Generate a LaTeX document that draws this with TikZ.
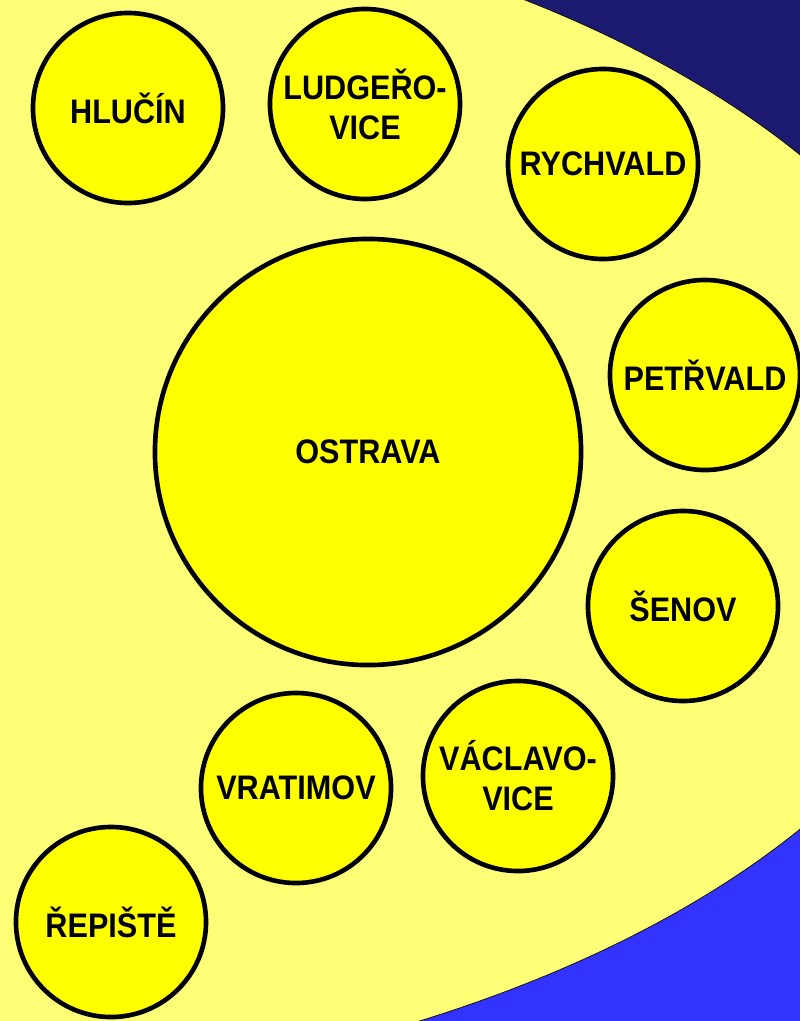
\documentclass[tikz,border=0pt]{standalone}
\usepackage{fontspec}
\setmainfont{Liberation Sans}[FakeStretch=0.9]
\usepackage{tikz}

\definecolor{navy}{RGB}{28,26,112}
\definecolor{brightblue}{RGB}{51,51,255}
\definecolor{paleyellow}{RGB}{255,255,119}
\definecolor{townyellow}{RGB}{255,255,0}
\pgfdeclareverticalshading{bgshade}{100bp}{color(0bp)=(brightblue); color(40bp)=(brightblue); color(60bp)=(navy); color(100bp)=(navy)}

\begin{document}
\begin{tikzpicture}[x=0.025cm, y=-0.025cm,
		town/.style={circle,draw,line width=3.3pt,fill=townyellow,inner sep=0pt,minimum size=4.75cm,align=center,
			font=\bfseries\fontsize{24.2pt}{28.5pt}\selectfont},
		bigtown/.style={town,minimum size=10.65cm}]
			
			% Background
			\useasboundingbox (0,0) rectangle (800,1021);
			\shade[shading=bgshade] (0,0) rectangle (800,1021);
			\fill[paleyellow, draw=black, line width=0.5pt] (-146,492) ellipse [x radius=1135, y radius=610];
			
			% Towns
			\node[bigtown] (ostrava) at (368,452) {OSTRAVA};
			\node[town] (hlucin) at (128,108) {HLUČÍN};
			\node[town] (ludgerovice) at (365,104) {LUDGEŘO-\\VICE};
			\node[town] (rychvald) at (603,164) {RYCHVALD};
			\node[town] (petrvald) at (705,375) {PETŘVALD};
			\node[town] (senov) at (683,606) {ŠENOV};
			\node[town] (vaclavovice) at (518,776) {VÁCLAVO-\\VICE};
			\node[town] (vratimov) at (296,788) {VRATIMOV};
			\node[town] (repiste) at (111,922) {ŘEPIŠTĚ};
			
		\end{tikzpicture}
\end{document}
